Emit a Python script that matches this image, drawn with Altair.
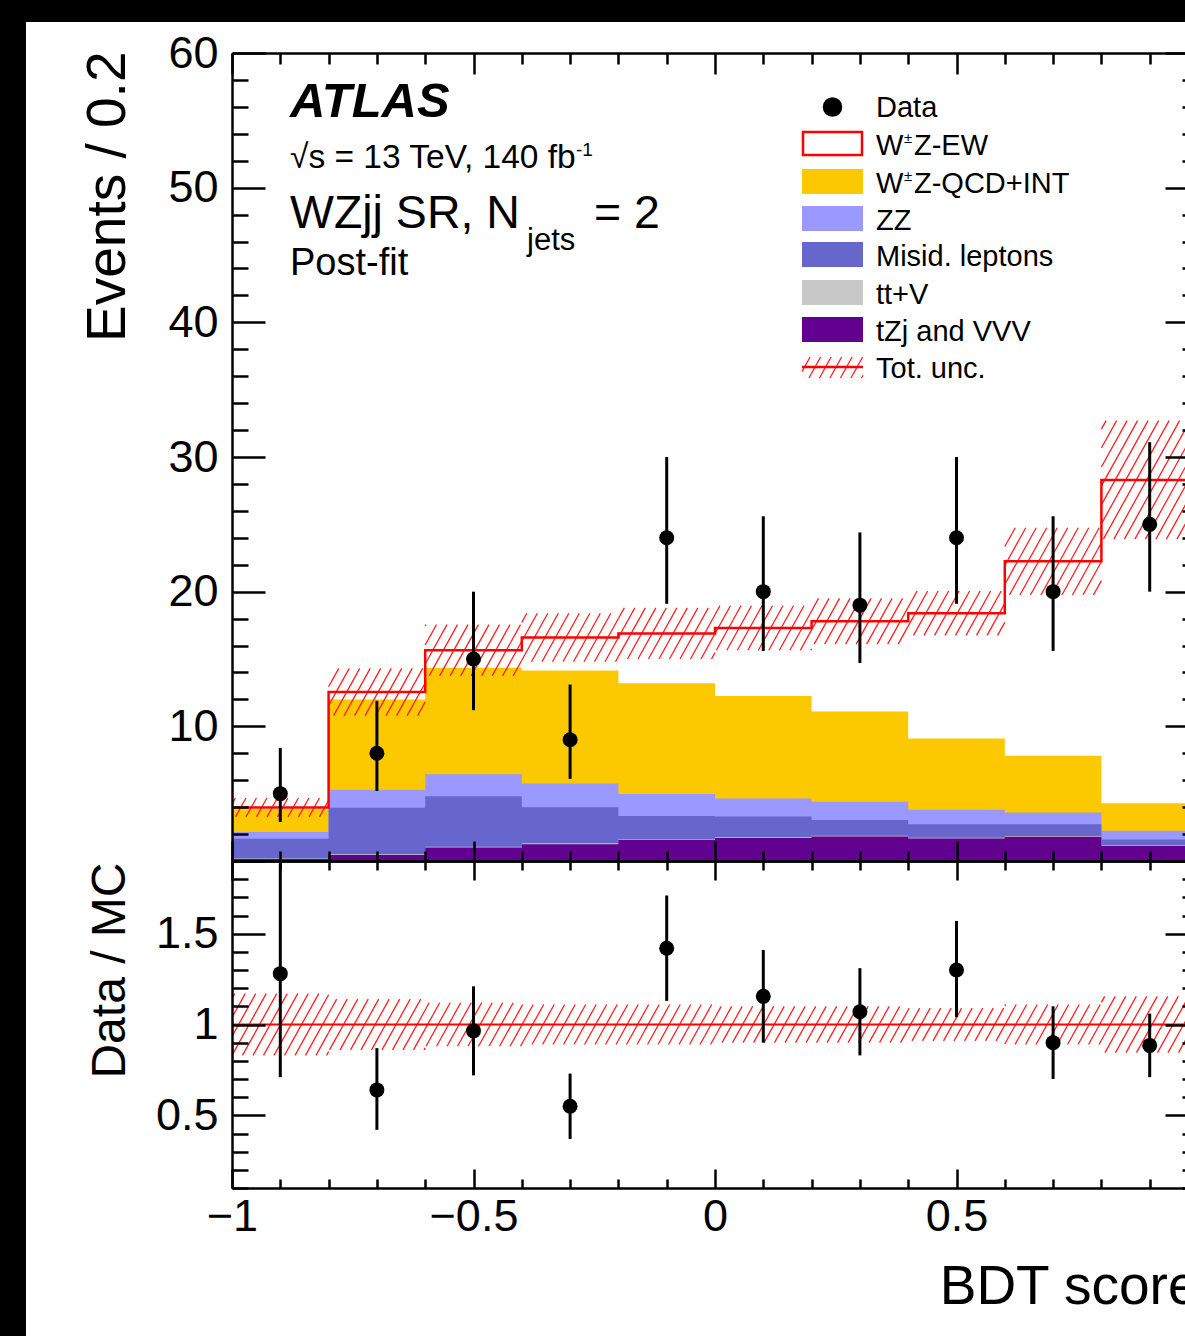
import math
import altair as alt
import pandas as pd

FONT = "Liberation Sans"

# ---------------- data ----------------
BIN_EDGES = [-1.0, -0.8, -0.6, -0.4, -0.2, 0.0, 0.2, 0.4, 0.6, 0.8, 1.0]
BIN_CENTERS = [-0.9, -0.7, -0.5, -0.3, -0.1, 0.1, 0.3, 0.5, 0.7, 0.9]

# stacked components, bottom to top
TZJ_VVV = [0.15, 0.45, 1.00, 1.25, 1.58, 1.70, 1.82, 1.68, 1.80, 1.14]
TTV = [0.03, 0.05, 0.06, 0.06, 0.06, 0.06, 0.05, 0.05, 0.05, 0.04]
MISID = [1.47, 3.45, 3.74, 2.69, 1.71, 1.54, 1.17, 0.99, 0.87, 0.42]
ZZ = [0.50, 1.35, 1.65, 1.75, 1.62, 1.35, 1.36, 1.08, 0.88, 0.64]
WZ_QCD = [1.70, 6.70, 7.90, 8.40, 8.23, 7.60, 6.70, 5.30, 4.22, 2.04]
WZ_EW = [0.13, 0.55, 1.30, 2.45, 3.70, 5.05, 6.70, 9.30, 14.43, 24.02]
TOT_UNC = [0.70, 1.75, 1.90, 1.80, 1.90, 1.65, 1.70, 1.65, 2.50, 4.40]

PROCESS_NAMES = ["tZj and VVV", "tt+V", "Misid. leptons", "ZZ", "W±Z-QCD+INT", "W±Z-EW"]
PROCESS_COLORS = ["#62008f", "#c8c8c8", "#6666cc", "#9999ff", "#fcc900", "#ffffff"]

DATA = [5, 8, 15, 9, 24, 20, 19, 24, 20, 25]
DATA_LO = [2.9, 5.2, 11.2, 6.1, 19.1, 15.6, 14.7, 19.1, 15.6, 20.0]
DATA_HI = [8.4, 11.9, 20.0, 13.1, 30.0, 25.6, 24.4, 30.0, 25.6, 31.1]

RATIO = [1.28, 0.64, 0.965, 0.55, 1.42, 1.155, 1.07, 1.30, 0.90, 0.885]
RATIO_LO = [0.71, 0.42, 0.72, 0.37, 1.13, 0.90, 0.83, 1.04, 0.70, 0.71]
RATIO_HI = [1.90, 0.87, 1.21, 0.73, 1.71, 1.41, 1.31, 1.57, 1.10, 1.06]
RATIO_UNC = [0.17, 0.14, 0.12, 0.11, 0.11, 0.10, 0.10, 0.09, 0.11, 0.155]

X_TICKS = [-1.0, -0.9, -0.8, -0.7, -0.6, -0.5, -0.4, -0.3, -0.2, -0.1, 0.0,
           0.1, 0.2, 0.3, 0.4, 0.5, 0.6, 0.7, 0.8, 0.9, 1.0]
X_LABELS = [-1.0, -0.5, 0.0, 0.5]
Y_MAIN_TICKS = [0, 2, 4, 6, 8, 10, 12, 14, 16, 18, 20, 22, 24, 26, 28, 30,
                32, 34, 36, 38, 40, 42, 44, 46, 48, 50, 52, 54, 56, 58, 60]
Y_MAIN_LABELS = [10, 20, 30, 40, 50, 60]
Y_RATIO_TICKS = [0.1, 0.2, 0.3, 0.4, 0.5, 0.6, 0.7, 0.8, 0.9, 1.0,
                 1.1, 1.2, 1.3, 1.4, 1.5, 1.6, 1.7, 1.8, 1.9]
Y_RATIO_LABELS = [0.5, 1.0, 1.5]

# ---------------- layout ----------------
OX, OY = 232, 53          # page position of the plot origin
W_VIEW, H_VIEW = 953, 1135
X_RANGE = 966             # pixel length of x in [-1, 1] (right frame falls outside the window)
H_MAIN = 808
PXX = X_RANGE / 2.0
PXM = H_MAIN / 60.0
PXR = (H_VIEW - H_MAIN) / 1.8

XS = alt.Scale(domain=[-1, 1], range=[0, X_RANGE], nice=False, zero=False)
YM = alt.Scale(domain=[0, 60], range=[H_MAIN, 0], nice=False, zero=False)
YR = alt.Scale(domain=[0.1, 1.9], range=[H_VIEW, H_MAIN], nice=False, zero=False)

HALF_TEST = "abs(datum.value * 2 - round(datum.value * 2)) < 0.001"
TEN_TEST = "datum.value % 10 === 0"


def tick_axis(orient, offset, values, test, major, minor, domain=False):
    return alt.Axis(orient=orient, offset=offset, values=values, labels=False,
                    title=None, grid=False, domain=domain, domainWidth=2.5,
                    domainColor="black", ticks=True, tickColor="black", tickWidth=2.5,
                    tickSize={"condition": {"test": test, "value": major}, "value": minor},
                    zindex=2)


A1 = alt.Axis(orient="left", values=Y_MAIN_LABELS, ticks=False, tickSize=0, domain=True,
              domainWidth=2.5, domainColor="black", labelFontSize=45, labelPadding=14,
              labelFlush=False, labelOverlap=False, format="d", grid=False,
              title="Events / 0.2", titleX=-108, titleY=-2, titleAngle=270,
              titleAlign="right", titleBaseline="alphabetic", titleFontSize=55, zindex=2)
A2 = tick_axis("right", -W_VIEW, Y_MAIN_TICKS, TEN_TEST, 33, 16)
A3 = tick_axis("left", -X_RANGE, Y_MAIN_TICKS, TEN_TEST, 33, 16, domain=True)

B1 = alt.Axis(orient="left", values=Y_RATIO_LABELS, ticks=False, tickSize=0, domain=True,
              domainWidth=2.5, domainColor="black", labelFontSize=45, labelPadding=14,
              labelFlush=False, labelOverlap=False, format="~g", grid=False,
              title="Data / MC", titleX=-108, titleY=H_MAIN + 1, titleAngle=270,
              titleAlign="right", titleBaseline="alphabetic", titleFontSize=48, zindex=2)
B2 = tick_axis("right", -W_VIEW, Y_RATIO_TICKS, HALF_TEST, 33, 16)
B3 = tick_axis("left", -X_RANGE, Y_RATIO_TICKS, HALF_TEST, 33, 16, domain=True)

C1 = alt.Axis(orient="bottom", values=X_LABELS, ticks=False, tickSize=0, domain=True,
              domainWidth=2.5, domainColor="black", labelFontSize=45, labelPadding=6,
              labelFlush=False, labelOverlap=False, format="~g", grid=False,
              title="BDT score", titleX=X_RANGE, titleY=115, titleAlign="right",
              titleBaseline="alphabetic", titleFontSize=55, zindex=2)
C2 = tick_axis("top", -H_VIEW, X_TICKS, HALF_TEST, 19, 9)
C3 = tick_axis("bottom", -(H_VIEW - H_MAIN), X_TICKS, HALF_TEST, 19, 9, domain=True)
C4 = tick_axis("top", -H_MAIN, X_TICKS, HALF_TEST, 20, 10, domain=True)
C5 = tick_axis("bottom", -H_VIEW, X_TICKS, HALF_TEST, 21, 11, domain=True)

one = pd.DataFrame({"k": [0]})

HATCH_ANGLE = 61
HATCH_SPACING = 10.5


def hatch_segments(X0, X1, Y0, Y1):
    """Diagonal hatch lines clipped to a pixel box (y pointing up)."""
    k = 1.0 / math.tan(math.radians(HATCH_ANGLE))
    segs = []
    n0 = math.floor((X0 - k * Y1) / HATCH_SPACING) - 1
    n1 = math.ceil((X1 - k * Y0) / HATCH_SPACING) + 1
    for n in range(n0, n1 + 1):
        c = n * HATCH_SPACING
        ya = max(Y0, (X0 - c) / k)
        yb = min(Y1, (X1 - c) / k)
        if yb - ya > 0.6:
            segs.append((c + k * ya, ya, c + k * yb, yb))
    return segs


def px_rect(x0, x1, y0, y1, **kw):
    return alt.Chart(one).mark_rect(**kw).encode(
        x=alt.value(x0 - OX), x2=alt.value(x1 - OX),
        y=alt.value(y0 - OY), y2=alt.value(y1 - OY))


def px_text(s, x, y, size, weight="normal", style="normal", align="left"):
    return alt.Chart(one).mark_text(
        text=s, font=FONT, fontSize=size, fontWeight=weight, fontStyle=style,
        align=align, baseline="alphabetic", color="black").encode(
        x=alt.value(x - OX), y=alt.value(y - OY))


layers = []

# black border of the screenshot
layers.append(px_rect(0, 26, 0, 1336, color="black"))
layers.append(px_rect(0, 1185, 0, 22, color="black"))

# ---------------- stacked histogram ----------------
comps = [TZJ_VVV, TTV, MISID, ZZ, WZ_QCD, WZ_EW]
cum = []
run = [0.0] * len(BIN_CENTERS)
for c in comps:
    run = [a + b for a, b in zip(run, c)]
    cum.append(run)
total = cum[-1]

fill_axes = {4: (C5, A1), 3: (C4, A2), 2: (None, A3), 1: (None, None), 0: (None, None)}
for i in [4, 3, 2, 1, 0]:
    df = pd.DataFrame({"x": BIN_EDGES, "y": cum[i] + [cum[i][-1]], "proc": PROCESS_NAMES[i]})
    xa, ya = fill_axes[i]
    layers.append(
        alt.Chart(df).mark_area(interpolate="step-after", color=PROCESS_COLORS[i], opacity=1)
        .encode(x=alt.X("x:Q", scale=XS, axis=xa),
                y=alt.Y("y:Q", scale=YM, axis=ya),
                y2=alt.datum(0)))

# uncertainty hatch (main)
rows = []
for j in range(len(BIN_CENTERS)):
    X0 = (BIN_EDGES[j] + 1) * PXX
    X1 = (BIN_EDGES[j + 1] + 1) * PXX
    Y0 = (total[j] - TOT_UNC[j]) * PXM
    Y1 = (total[j] + TOT_UNC[j]) * PXM
    for (a, b, c, d) in hatch_segments(X0, X1, Y0, Y1):
        rows.append({"x": a / PXX - 1, "y": b / PXM, "x2": c / PXX - 1, "y2": d / PXM})
hatch_main = pd.DataFrame(rows)
layers.append(
    alt.Chart(hatch_main).mark_rule(color="#ff2020", strokeWidth=1.3)
    .encode(x=alt.X("x:Q", scale=XS, axis=None), y=alt.Y("y:Q", scale=YM, axis=None),
            x2="x2:Q", y2="y2:Q"))

# total (W±Z-EW outline)
df_tot = pd.DataFrame({"x": BIN_EDGES, "y": total + [total[-1]]})
layers.append(
    alt.Chart(df_tot).mark_line(interpolate="step-after", color="#ff0000", strokeWidth=2.5)
    .encode(x=alt.X("x:Q", scale=XS, axis=None), y=alt.Y("y:Q", scale=YM, axis=None)))

# data
df_data = pd.DataFrame({"x": BIN_CENTERS, "y": DATA, "lo": DATA_LO, "hi": DATA_HI})
layers.append(
    alt.Chart(df_data).mark_rule(color="black", strokeWidth=3)
    .encode(x=alt.X("x:Q", scale=XS, axis=None), y=alt.Y("lo:Q", scale=YM, axis=None), y2="hi:Q"))
layers.append(
    alt.Chart(df_data).mark_circle(color="black", size=225, opacity=1)
    .encode(x=alt.X("x:Q", scale=XS, axis=None), y=alt.Y("y:Q", scale=YM, axis=None)))

# ---------------- ratio panel ----------------
rows = []
for j in range(len(BIN_CENTERS)):
    X0 = (BIN_EDGES[j] + 1) * PXX
    X1 = (BIN_EDGES[j + 1] + 1) * PXX
    Y0 = (1 - RATIO_UNC[j] - 0.1) * PXR
    Y1 = (1 + RATIO_UNC[j] - 0.1) * PXR
    for (a, b, c, d) in hatch_segments(X0, X1, Y0, Y1):
        rows.append({"x": a / PXX - 1, "y": 0.1 + b / PXR, "x2": c / PXX - 1, "y2": 0.1 + d / PXR})
hatch_ratio = pd.DataFrame(rows)
layers.append(
    alt.Chart(hatch_ratio).mark_rule(color="#ff2020", strokeWidth=1.3)
    .encode(x=alt.X("x:Q", scale=XS, axis=C1), y=alt.Y("y:Q", scale=YR, axis=B1),
            x2="x2:Q", y2="y2:Q"))

df_one = pd.DataFrame({"x": [-1.0], "x2": [1.0], "y": [1.0]})
layers.append(
    alt.Chart(df_one).mark_rule(color="#ff0000", strokeWidth=2)
    .encode(x=alt.X("x:Q", scale=XS, axis=C2), x2="x2:Q", y=alt.Y("y:Q", scale=YR, axis=B2)))

df_ratio = pd.DataFrame({"x": BIN_CENTERS, "y": RATIO, "lo": RATIO_LO, "hi": RATIO_HI})
layers.append(
    alt.Chart(df_ratio).mark_rule(color="black", strokeWidth=3)
    .encode(x=alt.X("x:Q", scale=XS, axis=C3), y=alt.Y("lo:Q", scale=YR, axis=B3), y2="hi:Q"))
layers.append(
    alt.Chart(df_ratio).mark_circle(color="black", size=225, opacity=1)
    .encode(x=alt.X("x:Q", scale=XS, axis=None), y=alt.Y("y:Q", scale=YR, axis=None)))

# ---------------- text ----------------
layers.append(px_text("ATLAS", 290, 117, 49, weight="bold", style="italic"))
layers.append(px_text("√s = 13 TeV, 140 fb", 290, 168, 33.5))
layers.append(px_text("-1", 576, 156, 19))
layers.append(px_text("WZjj SR, N", 290, 228, 46.5))
layers.append(px_text("jets", 527, 250, 31))
layers.append(px_text("= 2", 594, 228, 46.5))
layers.append(px_text("Post-fit", 290, 275, 38))

# ---------------- legend ----------------
LEG_X0, LEG_X1, LEG_TX = 802, 863, 876
LEG_FS = 29
LEG_BASE = [117, 155, 193, 230, 266, 304, 341, 378]
LEG_LABELS = ["Data", "W±Z-EW", "W±Z-QCD+INT", "ZZ", "Misid. leptons", "tt+V",
              "tZj and VVV", "Tot. unc."]
LEG_PROC = [None, 5, 4, 3, 2, 1, 0, None]

layers.append(
    alt.Chart(one).mark_circle(color="black", size=380, opacity=1)
    .encode(x=alt.value((LEG_X0 + LEG_X1) / 2 - OX), y=alt.value(LEG_BASE[0] - 10 - OY)))

for r, lab in enumerate(LEG_LABELS):
    b = LEG_BASE[r]
    p = LEG_PROC[r]
    if p is not None:
        if p == 5:
            layers.append(px_rect(LEG_X0 + 1, LEG_X1 - 1, b - 23, b, fill="white",
                                  stroke="#ff0000", strokeWidth=2.5))
        else:
            layers.append(px_rect(LEG_X0, LEG_X1, b - 24, b + 1, color=PROCESS_COLORS[p]))
    if lab.startswith("W±Z"):
        layers.append(px_text("W", LEG_TX, b, LEG_FS))
        layers.append(px_text("±", LEG_TX + 28, b - 12, 15))
        layers.append(px_text(lab[2:], LEG_TX + 38, b, LEG_FS))
    else:
        layers.append(px_text(lab, LEG_TX, b, LEG_FS))

# Tot. unc. symbol
rows = []
for (a, b_, c, d) in hatch_segments(LEG_X0, LEG_X1, -378, -357):
    rows.append({"x": a - OX, "y": -b_ - OY, "x2": c - OX, "y2": -d - OY})
hatch_leg = pd.DataFrame(rows)
layers.append(
    alt.Chart(hatch_leg).mark_rule(color="#ff2020", strokeWidth=1.3)
    .encode(x=alt.X("x:Q", scale=None, axis=None), y=alt.Y("y:Q", scale=None, axis=None),
            x2="x2:Q", y2="y2:Q"))
layers.append(
    alt.Chart(one).mark_rule(color="#ff0000", strokeWidth=2.5)
    .encode(x=alt.value(LEG_X0 - OX), x2=alt.value(LEG_X1 - OX), y=alt.value(367 - OY)))

chart = (
    alt.layer(*layers)
    .resolve_scale(x="independent", y="independent")
    .resolve_axis(x="independent", y="independent")
    .properties(width=W_VIEW, height=H_VIEW,
                autosize=alt.AutoSizeParams(type="none"),
                padding={"left": OX, "top": OY, "right": 0, "bottom": 1336 - OY - H_VIEW},
                background="white")
    .configure_view(stroke=None)
    .configure_axis(grid=False, labelFont=FONT, titleFont=FONT, labelColor="black",
                    titleColor="black", titleFontWeight="normal")
)

chart.save("out.html", embed_options={"renderer": "svg", "actions": False})
